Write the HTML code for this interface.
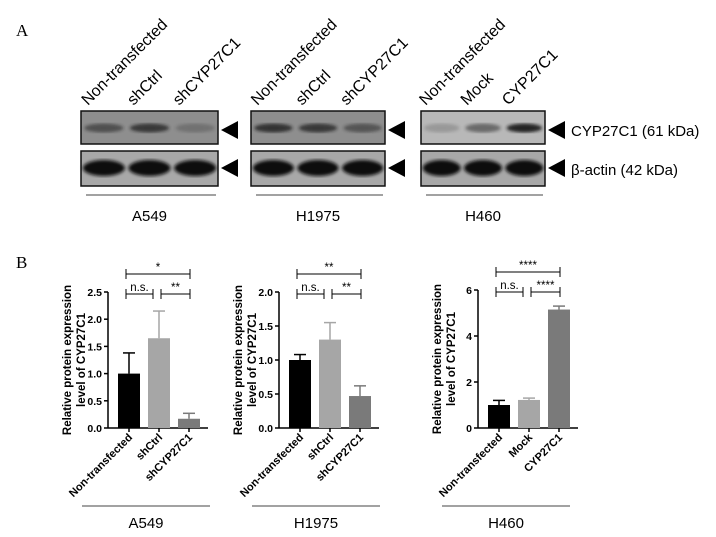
<!DOCTYPE html>
<html><head><meta charset="utf-8"><style>
body{margin:0;background:#fff;}
svg{display:block;font-family:"Liberation Sans",sans-serif;}
</style></head><body>
<svg width="716" height="537" id="fig">
<defs>
<filter id="blur"><feGaussianBlur stdDeviation="1.5"/></filter>
</defs>
<text x="16" y="36" font-family="Liberation Serif" font-size="17">A</text>
<text x="16" y="268" font-family="Liberation Serif" font-size="17">B</text>
<g id="blots"></g>
<g id="charts"></g>
</svg>
<script>
const NS="http://www.w3.org/2000/svg";
function mk(t,a,p,txt){const e=document.createElementNS(NS,t);for(const k in a)e.setAttribute(k,a[k]);if(txt!==undefined)e.textContent=txt;p.appendChild(e);return e;}
const blotG=document.getElementById('blots');
const blotX=[81,251,421];const blotW=[137,134,124];
const cellNames=["A549","H1975","H460"];
const laneLabels=[["Non-transfected","shCtrl","shCYP27C1"],["Non-transfected","shCtrl","shCYP27C1"],["Non-transfected","Mock","CYP27C1"]];
const topBand=[[0.55,0.75,0.25],[0.8,0.75,0.5],[0.2,0.5,0.95]];
for(let i=0;i<3;i++){
  const x=blotX[i],w=blotW[i];
  const g=mk('g',{},blotG);
  
  
  mk('rect',{x:x,y:111,width:w,height:33,fill:i==2?'#b8b8b8':'#8e8e8e',stroke:'#111','stroke-width':1.5},g);
  mk('rect',{x:x,y:151,width:w,height:35,fill:'#a8a8a8',stroke:'#111','stroke-width':1.5},g);
  for(let j=0;j<3;j++){
    const cx=x+w*(j+0.5)/3;
    mk('ellipse',{cx:cx,cy:128,rx:w/7,ry:4.5,fill:'#1a1a1a',opacity:topBand[i][j],filter:'url(#blur)'},g);
    mk('ellipse',{cx:cx,cy:168,rx:w/6.5,ry:8,fill:'#111',filter:'url(#blur)'},g);
    const t=mk('text',{x:cx-16,y:106,'font-size':16,transform:`rotate(-45 ${cx-16} 106)`},g,laneLabels[i][j]);
    
    
  }
  mk('polygon',{points:`${x+w+3},130 ${x+w+20},121 ${x+w+20},139`,fill:'#000'},g);
  mk('polygon',{points:`${x+w+3},168 ${x+w+20},159 ${x+w+20},177`,fill:'#000'},g);
  mk('line',{x1:x+5,x2:x+w-2,y1:195,y2:195,stroke:'#444'},g);
  mk('text',{x:x+w/2,y:221,'font-size':15,'text-anchor':'middle'},g,cellNames[i]);
}
mk('text',{x:571,y:136,'font-size':15},blotG,'CYP27C1 (61 kDa)');
mk('text',{x:571,y:175,'font-size':15},blotG,'β-actin (42 kDa)');

// chart data
const catsA=["Non-transfected","shCtrl","shCYP27C1"];
const valsA=[1.0,1.65,0.17];const errA=[0.38,0.5,0.1];const ticksA=["0.0","0.5","1.0","1.5","2.0","2.5"];
const catsB=["Non-transfected","shCtrl","shCYP27C1"];
const valsB=[1.0,1.3,0.47];const errB=[0.08,0.25,0.15];const ticksB=["0.0","0.5","1.0","1.5","2.0"];
const catsC=["Non-transfected","Mock","CYP27C1"];
const valsC=[1.0,1.22,5.15];const errC=[0.2,0.08,0.15];const ticksC=["0","2","4","6"];
const sigA=["*","n.s.","**"],sigB=["**","n.s.","**"],sigC=["****","n.s.","****"];
const cg=document.getElementById('charts');
const colors=['#000','#a6a6a6','#7a7a7a'];
function chart(ax,yTop,cats,vals,errs,ticks,sig,name,lineX){
  const y0=428,max=parseFloat(ticks[ticks.length-1]);
  const Y=v=>y0-(y0-yTop)*v/max;
  const X=j=>ax+21+j*30;
  const g=mk('g',{},cg);
  
  
  mk('line',{x1:ax,x2:ax,y1:yTop,y2:y0,stroke:'#000','stroke-width':1.5},g);
  mk('line',{x1:ax,x2:ax+100,y1:y0,y2:y0,stroke:'#000','stroke-width':1.5},g);
  ticks.forEach(t=>{const v=parseFloat(t);mk('line',{x1:ax-4,x2:ax,y1:Y(v),y2:Y(v),stroke:'#000','stroke-width':1.5},g);
    mk('text',{x:ax-6,y:Y(v)+4,'font-size':10.5,'font-weight':'bold','text-anchor':'end'},g,t);});
  cats.forEach((c,j)=>{
    const b=mk('rect',{x:X(j)-11,y:Y(vals[j]),width:22,height:y0-Y(vals[j]),fill:colors[j]},g);
    
    
    const ye=Y(vals[j]+errs[j]);
    mk('line',{x1:X(j),x2:X(j),y1:ye,y2:Y(vals[j]),stroke:colors[j],'stroke-width':1.5},g);
    mk('line',{x1:X(j)-6,x2:X(j)+6,y1:ye,y2:ye,stroke:colors[j],'stroke-width':1.5},g);
    mk('line',{x1:X(j),x2:X(j),y1:y0,y2:y0+4,stroke:'#000','stroke-width':1.5},g);
    mk('text',{x:X(j)+4,y:y0+10,'font-size':11,'font-weight':'bold','text-anchor':'end',transform:`rotate(-45 ${X(j)+4} ${y0+10})`},g,c);
  });
  const yb1=yTop-18,yb2=yTop+2;
  const br=(x1,x2,y,t)=>{mk('line',{x1:x1,x2:x2,y1:y,y2:y,stroke:'#000'},g);
    mk('line',{x1:x1,x2:x1,y1:y-5,y2:y+5,stroke:'#000'},g);mk('line',{x1:x2,x2:x2,y1:y-5,y2:y+5,stroke:'#000'},g);
    mk('text',{x:(x1+x2)/2,y:y-3,'font-size':11.5,'text-anchor':'middle'},g,t);};
  br(X(0)-3,X(2)+1,yb1,sig[0]);br(X(0)-3,X(1)-6,yb2,sig[1]);br(X(1)+2,X(2)+1,yb2,sig[2]);
  const tx=ax-37,ty=(yTop+y0)/2;
  mk('text',{x:tx,y:ty,'font-size':11.5,'font-weight':'bold','text-anchor':'middle',transform:`rotate(-90 ${tx} ${ty})`},g,'Relative protein expression');
  mk('text',{x:tx+14,y:ty,'font-size':11.5,'font-weight':'bold','text-anchor':'middle',transform:`rotate(-90 ${tx+14} ${ty})`},g,'level of CYP27C1');
  mk('line',{x1:lineX,x2:lineX+128,y1:506,y2:506,stroke:'#444'},g);
  mk('text',{x:lineX+64,y:528,'font-size':15,'text-anchor':'middle'},g,name);
}
chart(108,292,catsA,valsA,errA,ticksA,sigA,'A549',82);
chart(279,292,catsB,valsB,errB,ticksB,sigB,'H1975',252);
chart(478,290,catsC,valsC,errC,ticksC,sigC,'H460',442);
</script>
</body></html>
